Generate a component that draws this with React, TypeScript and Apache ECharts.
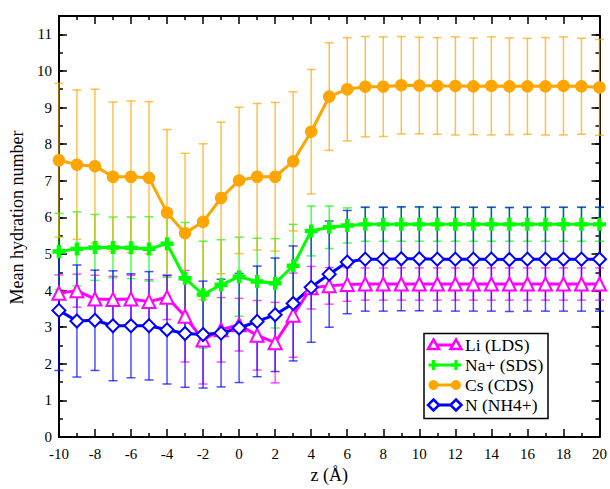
import React, { useEffect, useRef } from 'react';
import * as echarts from 'echarts';

const zValues = [-10, -9, -8, -7, -6, -5, -4, -3, -2, -1, 0, 1, 2, 3, 4, 5, 6, 7, 8, 9, 10, 11, 12, 13, 14, 15, 16, 17, 18, 19, 20];

const liValues = [3.93, 4.0, 3.77, 3.76, 3.77, 3.7, 3.82, 3.3, 2.65, 2.93, 3.07, 2.78, 2.58, 3.33, 4.08, 4.13, 4.17, 4.18, 4.18, 4.18, 4.18, 4.18, 4.18, 4.18, 4.18, 4.18, 4.18, 4.18, 4.18, 4.18, 4.18];
const liErrors = [0.5, 0.45, 0.65, 0.63, 0.65, 0.6, 0.61, 1.25, 1.2, 0.88, 0.72, 0.95, 1.1, 1.15, 0.58, 0.5, 0.46, 0.44, 0.44, 0.44, 0.44, 0.44, 0.44, 0.44, 0.44, 0.44, 0.44, 0.44, 0.44, 0.44, 0.44];

const naValues = [5.07, 5.14, 5.18, 5.18, 5.17, 5.14, 5.28, 4.34, 3.89, 4.16, 4.38, 4.25, 4.2, 4.68, 5.63, 5.73, 5.78, 5.81, 5.81, 5.81, 5.81, 5.81, 5.81, 5.81, 5.81, 5.81, 5.81, 5.81, 5.81, 5.81, 5.81];
const naErrors = [1.04, 1.01, 0.9, 0.83, 0.84, 0.88, 0.92, 1.52, 1.46, 1.23, 1.08, 1.18, 1.22, 1.13, 0.68, 0.58, 0.48, 0.46, 0.46, 0.46, 0.46, 0.46, 0.46, 0.46, 0.46, 0.46, 0.46, 0.46, 0.46, 0.46, 0.46];

const csValues = [7.56, 7.44, 7.4, 7.11, 7.11, 7.08, 6.13, 5.57, 5.88, 6.53, 7.01, 7.11, 7.11, 7.53, 8.34, 9.3, 9.5, 9.57, 9.57, 9.61, 9.6, 9.59, 9.59, 9.58, 9.59, 9.58, 9.58, 9.58, 9.59, 9.58, 9.55];
const csErrors = [2.1, 2.04, 2.1, 2.04, 2.07, 2.08, 2.27, 2.18, 2.13, 2.07, 2.0, 2.0, 2.03, 1.9, 1.7, 1.47, 1.41, 1.37, 1.36, 1.33, 1.32, 1.32, 1.34, 1.32, 1.34, 1.32, 1.31, 1.33, 1.34, 1.31, 1.31];

const nValues = [3.46, 3.17, 3.19, 3.04, 3.04, 3.04, 2.93, 2.83, 2.8, 2.84, 2.98, 3.16, 3.34, 3.65, 4.09, 4.45, 4.78, 4.86, 4.86, 4.87, 4.87, 4.86, 4.86, 4.86, 4.86, 4.85, 4.86, 4.86, 4.86, 4.86, 4.86];
const nErrors = [1.64, 1.53, 1.37, 1.5, 1.42, 1.48, 1.48, 1.47, 1.46, 1.47, 1.49, 1.51, 1.55, 1.57, 1.5, 1.45, 1.41, 1.42, 1.42, 1.42, 1.42, 1.42, 1.42, 1.42, 1.42, 1.42, 1.42, 1.42, 1.42, 1.42, 1.42];

const seriesNames = ['Li (LDS)', 'Na+ (SDS)', 'Cs (CDS)', 'N (NH4+)'];
const xTitle = 'z (Å)';
const yTitle = 'Mean hydration number';

const FONT = 'Liberation Serif';
const PLUS_PATH = 'path://M3.3,0H6.7V3.3H10V6.7H6.7V10H3.3V6.7H0V3.3H3.3Z';

const defs = [
  { name: seriesNames[0], color: '#ff00ff', values: liValues, errors: liErrors, symbol: 'emptyTriangle', size: 13, shape: 'triangle' },
  { name: seriesNames[1], color: '#00ff00', values: naValues, errors: naErrors, symbol: PLUS_PATH, size: 13, shape: 'plus' },
  { name: seriesNames[2], color: '#ffa500', values: csValues, errors: csErrors, symbol: 'circle', size: 12.5, shape: 'circle' },
  { name: seriesNames[3], color: '#0000ff', values: nValues, errors: nErrors, symbol: 'emptyDiamond', size: 13, shape: 'diamond' },
];

function legendMarker(shape: string, cx: number, cy: number, color: string): any {
  if (shape === 'triangle') {
    return { type: 'polygon', shape: { points: [[cx, cy - 5.5], [cx + 5.5, cy + 4], [cx - 5.5, cy + 4]] }, style: { fill: '#fff', stroke: color, lineWidth: 2.5 } };
  }
  if (shape === 'diamond') {
    return { type: 'polygon', shape: { points: [[cx, cy - 5.5], [cx + 5.5, cy], [cx, cy + 5.5], [cx - 5.5, cy]] }, style: { fill: '#fff', stroke: color, lineWidth: 2.5 } };
  }
  if (shape === 'circle') {
    return { type: 'circle', shape: { cx, cy, r: 5 }, style: { fill: color } };
  }
  const a = 5, t = 1.6;
  return {
    type: 'polygon',
    shape: {
      points: [
        [cx - t, cy - a], [cx + t, cy - a], [cx + t, cy - t], [cx + a, cy - t], [cx + a, cy + t], [cx + t, cy + t],
        [cx + t, cy + a], [cx - t, cy + a], [cx - t, cy + t], [cx - a, cy + t], [cx - a, cy - t], [cx - t, cy - t],
      ],
    },
    style: { fill: color },
  };
}

export default function App() {
  const ref = useRef<HTMLDivElement>(null);

  useEffect(() => {
    if (!ref.current) return;
    const chart = echarts.init(ref.current, undefined, { renderer: 'svg' });

    const tickStyle = { color: '#000', width: 1.5 };
    const baseX = {
      type: 'value', min: -10, max: 20, interval: 2,
      splitLine: { show: false }, minorSplitLine: { show: false },
      axisLine: { show: true, onZero: false, lineStyle: { color: '#000', width: 2 } },
      axisTick: { show: true, inside: true, length: 8, lineStyle: tickStyle },
      minorTick: { show: true, splitNumber: 2, length: 4, lineStyle: tickStyle },
    };
    const baseY = {
      type: 'value', min: 0, max: 11.5,
      splitLine: { show: false },
    };

    const errorSeries = defs.map((d) => ({
      type: 'custom',
      name: d.name + ' error',
      xAxisIndex: 0,
      yAxisIndex: 0,
      silent: true,
      z: 1,
      data: zValues.map((z, i) => [z, d.values[i] - d.errors[i], d.values[i] + d.errors[i]]),
      encode: { x: 0, y: [1, 2] },
      renderItem: (params: any, api: any) => {
        const x = api.value(0);
        const top = api.coord([x, api.value(2)]);
        const bot = api.coord([x, api.value(1)]);
        const hw = 4.5;
        const st = { stroke: d.color, lineWidth: 1.5, opacity: 0.7 };
        return {
          type: 'group',
          children: [
            { type: 'line', shape: { x1: top[0], y1: top[1], x2: bot[0], y2: bot[1] }, style: st },
            { type: 'line', shape: { x1: top[0] - hw, y1: top[1], x2: top[0] + hw, y2: top[1] }, style: st },
            { type: 'line', shape: { x1: bot[0] - hw, y1: bot[1], x2: bot[0] + hw, y2: bot[1] }, style: st },
          ],
        };
      },
    }));

    const lineSeries = defs.map((d) => ({
      type: 'line',
      name: d.name,
      xAxisIndex: 0,
      yAxisIndex: 0,
      z: 2,
      data: zValues.map((z, i) => [z, d.values[i]]),
      symbol: d.symbol,
      symbolSize: d.size,
      showSymbol: true,
      lineStyle: { color: d.color, width: 3 },
      itemStyle: { color: d.color, borderColor: d.color, borderWidth: d.shape === 'triangle' || d.shape === 'diamond' ? 2.5 : 0 },
      emphasis: { disabled: true },
    }));

    const legendChildren: any[] = [
      { type: 'rect', shape: { x: 424, y: 333.5, width: 124, height: 85 }, style: { fill: '#fff', stroke: '#000', lineWidth: 1.5 } },
    ];
    defs.forEach((d, i) => {
      const cy = 345 + i * 20;
      legendChildren.push({ type: 'line', shape: { x1: 433.5, y1: cy, x2: 456, y2: cy }, style: { stroke: d.color, lineWidth: 3 } });
      legendChildren.push(legendMarker(d.shape, 433.5, cy, d.color));
      legendChildren.push(legendMarker(d.shape, 456, cy, d.color));
      legendChildren.push({
        type: 'text', x: 465, y: cy,
        style: { text: d.name, fontSize: 17.5, fontFamily: FONT, fill: '#000', verticalAlign: 'middle', align: 'left' },
      });
    });

    chart.setOption({
      animation: false,
      textStyle: { fontFamily: FONT },
      grid: { left: 57, right: 10.5, top: 16, bottom: 44 },
      xAxis: [
        {
          ...baseX, position: 'bottom',
          axisLabel: { show: true, color: '#000', fontSize: 15, fontFamily: FONT, margin: 9 },
          name: xTitle, nameLocation: 'middle', nameGap: 23,
          nameTextStyle: { color: '#000', fontSize: 18, fontFamily: FONT },
        },
        { ...baseX, position: 'top', axisLabel: { show: false } },
      ],
      yAxis: [
        {
          ...baseY, position: 'left', interval: 1,
          axisLine: { show: true, onZero: false, lineStyle: { color: '#000', width: 2 } },
          axisTick: { show: true, inside: true, length: 8, lineStyle: tickStyle },
          axisLabel: {
            show: true, color: '#000', fontSize: 15, fontFamily: FONT, margin: 7,
            formatter: (v: number) => (Number.isInteger(v) ? String(v) : ''),
          },
          name: yTitle, nameLocation: 'middle', nameGap: 28,
          nameTextStyle: { color: '#000', fontSize: 18, fontFamily: FONT, padding: [0, 0, 0, 18] },
        },
        {
          ...baseY, position: 'left', interval: 0.5,
          axisLine: { show: false, onZero: false },
          axisTick: { show: true, inside: true, length: 4, lineStyle: tickStyle },
          axisLabel: { show: false },
        },
        {
          ...baseY, position: 'right', interval: 1,
          axisLine: { show: true, onZero: false, lineStyle: { color: '#000', width: 2 } },
          axisTick: { show: true, inside: true, length: 8, lineStyle: tickStyle },
          axisLabel: { show: false },
        },
        {
          ...baseY, position: 'right', interval: 0.5,
          axisLine: { show: false, onZero: false },
          axisTick: { show: true, inside: true, length: 4, lineStyle: tickStyle },
          axisLabel: { show: false },
        },
      ],
      series: [...errorSeries, ...lineSeries],
      graphic: [{ type: 'group', z: 100, children: legendChildren }],
    } as any);

    return () => chart.dispose();
  }, []);

  return <div ref={ref} style={{ position: 'fixed', left: 0, top: 0, width: 610, height: 489, background: '#fff' }} />;
}
